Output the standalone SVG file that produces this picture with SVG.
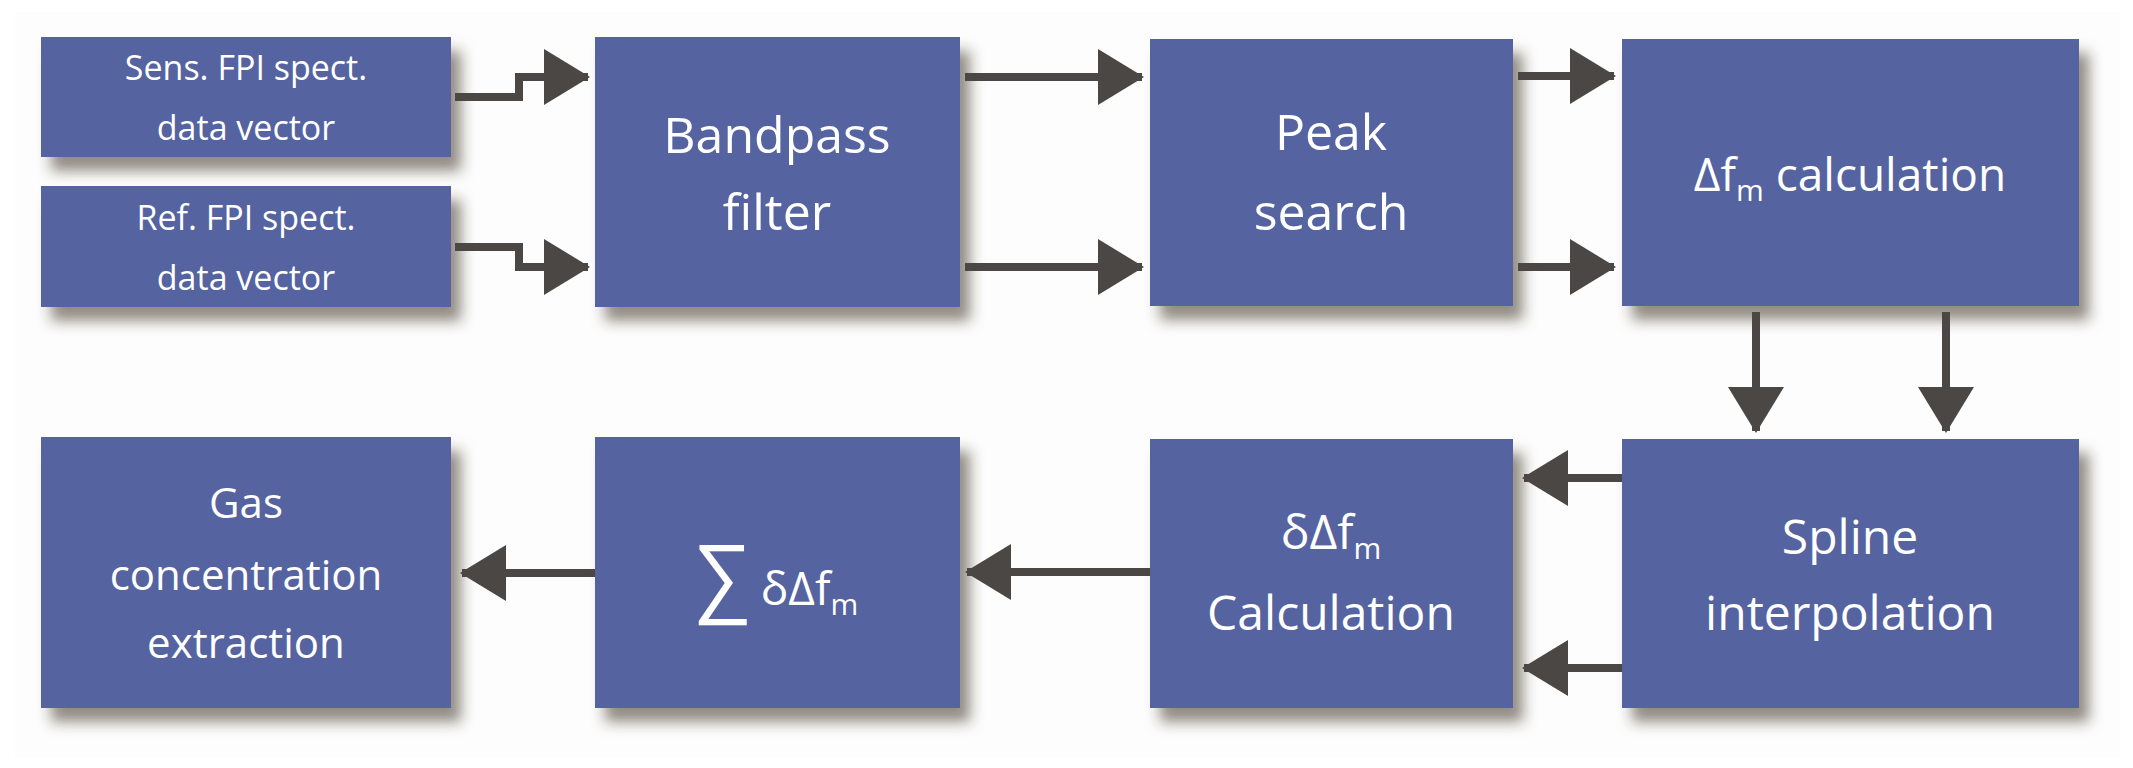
<svg xmlns="http://www.w3.org/2000/svg" width="2133" height="768" viewBox="0 0 2133 768">
<defs>
<filter id="sh" x="-10%" y="-10%" width="130%" height="140%">
<feDropShadow dx="10" dy="14" stdDeviation="7" flood-color="#3a3020" flood-opacity="0.55"/>
</filter>
<marker id="ah" markerUnits="userSpaceOnUse" markerWidth="46" markerHeight="56" refX="44" refY="28" orient="auto">
<path d="M0,0 L46,28 L0,56 Z" fill="#4a4744"/>
</marker>
</defs>
<style>
.box{fill:#5564a0;filter:url(#sh)}
.t{fill:#fff;font-family:"Open Sans","Liberation Sans",sans-serif;text-anchor:middle}
.c{stroke:#4a4744;stroke-width:8;fill:none;marker-end:url(#ah)}
</style>
<rect width="2133" height="768" fill="#fff"/>
<rect x="15" y="12" width="2105" height="745" fill="#fdfdfd"/>
<g id="sens"><rect class="box" x="41" y="37" width="410" height="120"/>
<text class="t" font-size="34" x="246" y="80">Sens. FPI spect.</text><text class="t" font-size="34" x="246" y="140">data vector</text></g>
<g id="ref"><rect class="box" x="41" y="186" width="410" height="121"/>
<text class="t" font-size="34" x="246" y="230">Ref. FPI spect.</text><text class="t" font-size="34" x="246" y="290">data vector</text></g>
<g id="bandpass"><rect class="box" x="595" y="37" width="365" height="270"/>
<text class="t" font-size="50" x="777" y="153">Bandpass</text><text class="t" font-size="50" x="777" y="230">filter</text></g>
<g id="peak"><rect class="box" x="1150" y="39" width="363" height="267"/>
<text class="t" font-size="50" x="1331" y="150">Peak</text><text class="t" font-size="50" x="1331" y="230">search</text></g>
<g id="dfcalc"><rect class="box" x="1622" y="39" width="457" height="267"/>
<text class="t" font-size="46" x="1850" y="191">Δf<tspan font-size="30" dy="10">m</tspan><tspan dy="-10"> calculation</tspan></text></g>
<g id="spline"><rect class="box" x="1622" y="439" width="457" height="269"/>
<text class="t" font-size="48" x="1850" y="554">Spline</text><text class="t" font-size="48" x="1850" y="630">interpolation</text></g>
<g id="ddfcalc"><rect class="box" x="1150" y="439" width="363" height="269"/>
<text class="t" font-size="48" x="1331" y="549">δΔf<tspan font-size="30" dy="10">m</tspan></text><text class="t" font-size="48" x="1331" y="630">Calculation</text></g>
<g id="sum"><rect class="box" x="595" y="437" width="365" height="271"/>
<text class="t" x="777" y="605"><tspan font-size="84">∑</tspan><tspan font-size="46"> δΔf</tspan><tspan font-size="30" dy="10">m</tspan></text></g>
<g id="gas"><rect class="box" x="41" y="437" width="410" height="271"/>
<text class="t" font-size="42" x="246" y="518">Gas</text><text class="t" font-size="42" x="246" y="590">concentration</text><text class="t" font-size="42" x="246" y="658">extraction</text></g>
<g id="connectors">
<path class="c" d="M455,97 H519 V77 H588"/>
<path class="c" d="M455,247 H519 V267 H588"/>
<path class="c" d="M965,77 H1142"/>
<path class="c" d="M965,267 H1142"/>
<path class="c" d="M1518,76 H1614"/>
<path class="c" d="M1518,267 H1614"/>
<path class="c" d="M1756,312 V431"/>
<path class="c" d="M1946,312 V431"/>
<path class="c" d="M1622,478 H1524"/>
<path class="c" d="M1622,668 H1524"/>
<path class="c" d="M1150,572 H967"/>
<path class="c" d="M595,573 H462"/>
</g>
</svg>
